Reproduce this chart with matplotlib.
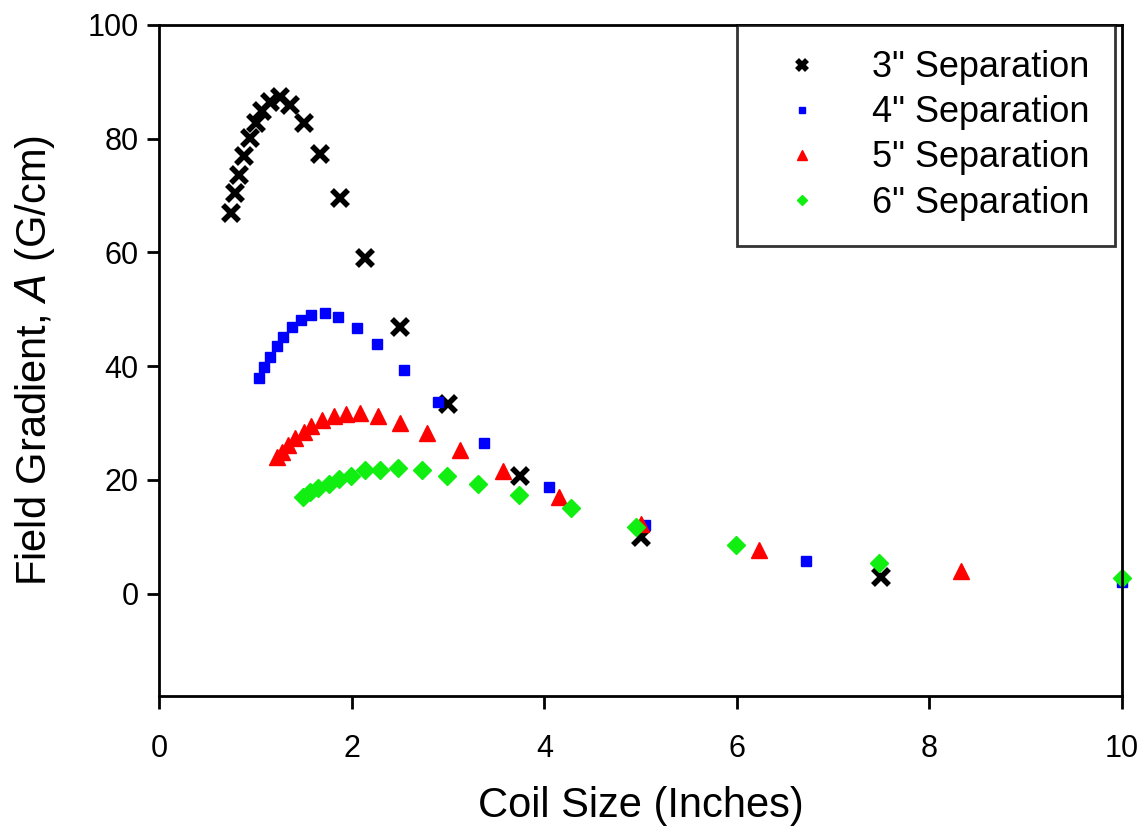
import matplotlib
matplotlib.use("Agg")
import matplotlib.pyplot as plt

plt.rcParams['font.family'] = ['Liberation Sans', 'DejaVu Sans']

# 3" separation
size_3 = [0.75, 0.79, 0.83, 0.88, 0.94, 1.00, 1.07, 1.15, 1.25, 1.36,
          1.50, 1.67, 1.88, 2.14, 2.50, 3.00, 3.75, 5.00, 7.50]
grad_3 = [66.9, 70.4, 73.6, 76.9, 80.1, 82.7, 84.8, 86.5, 87.4, 85.9,
          82.7, 77.4, 69.5, 59.0, 46.9, 33.4, 20.7, 10.0, 3.0]

# 4" separation
size_4 = [1.04, 1.09, 1.15, 1.22, 1.29, 1.38, 1.47, 1.58, 1.72, 1.86,
          2.05, 2.26, 2.54, 2.90, 3.37, 4.05, 5.05, 6.72, 10.0]
grad_4 = [37.9, 39.8, 41.7, 43.6, 45.2, 46.9, 48.2, 49.0, 49.3, 48.6,
          46.7, 43.9, 39.4, 33.7, 26.5, 18.8, 12.1, 5.8, 2.1]

# 5" separation
size_5 = [1.22, 1.27, 1.34, 1.41, 1.50, 1.58, 1.69, 1.81, 1.94, 2.08,
          2.27, 2.50, 2.78, 3.12, 3.57, 4.15, 5.00, 6.23, 8.33]
grad_5 = [24.1, 25.0, 26.2, 27.4, 28.5, 29.5, 30.5, 31.3, 31.6, 31.8,
          31.2, 30.0, 28.2, 25.3, 21.5, 17.0, 12.3, 7.7, 3.9]

# 6" separation
size_6 = [1.49, 1.57, 1.65, 1.76, 1.87, 1.99, 2.14, 2.29, 2.48, 2.73,
          2.99, 3.31, 3.74, 4.28, 4.95, 5.99, 7.48, 10.0]
grad_6 = [17.0, 17.8, 18.6, 19.3, 20.2, 20.7, 21.7, 21.8, 22.1, 21.8,
          20.7, 19.3, 17.4, 15.1, 11.8, 8.6, 5.4, 2.8]

fig = plt.figure(figsize=(11.46, 8.30), dpi=100)
ax = fig.add_axes([0.139, 0.1614, 0.840, 0.8085])

ax.plot(size_3, grad_3, linestyle='none', marker='x', color='black',
        markersize=11, markeredgewidth=4, label='3" Separation', clip_on=False)
ax.plot(size_4, grad_4, linestyle='none', marker='s', color='#0000ff',
        markersize=6.5, label='4" Separation', clip_on=False)
ax.plot(size_5, grad_5, linestyle='none', marker='^', color='#ff0000',
        markersize=12, label='5" Separation', clip_on=False)
ax.plot(size_6, grad_6, linestyle='none', marker='D', color='#11ee11',
        markersize=9, label='6" Separation', clip_on=False)

ax.set_xlim(0, 10)
ax.set_ylim(-18, 100)
ax.set_xticks([0, 2, 4, 6, 8, 10])
ax.set_yticks([0, 20, 40, 60, 80, 100])
ax.tick_params(direction='out', length=9, width=2, labelsize=22)
ax.tick_params(axis='x', pad=18)
ax.tick_params(axis='y', pad=6)
for s in ax.spines.values():
    s.set_linewidth(2)

ax.set_xlabel('Coil Size (Inches)', fontsize=30, labelpad=16)
ax.set_ylabel('Field Gradient, $\\mathit{A}$ (G/cm)', fontsize=30, labelpad=22)

leg = ax.legend(loc='upper right', bbox_to_anchor=(0.993, 1.0), borderaxespad=0,
                fontsize=26, frameon=True, fancybox=False, edgecolor='black',
                markerscale=0.6, handletextpad=0.85, borderpad=0.7,
                labelspacing=0.28, handlelength=2.2)
leg.get_frame().set_linewidth(2)

fig.savefig('out.png', dpi=100)
